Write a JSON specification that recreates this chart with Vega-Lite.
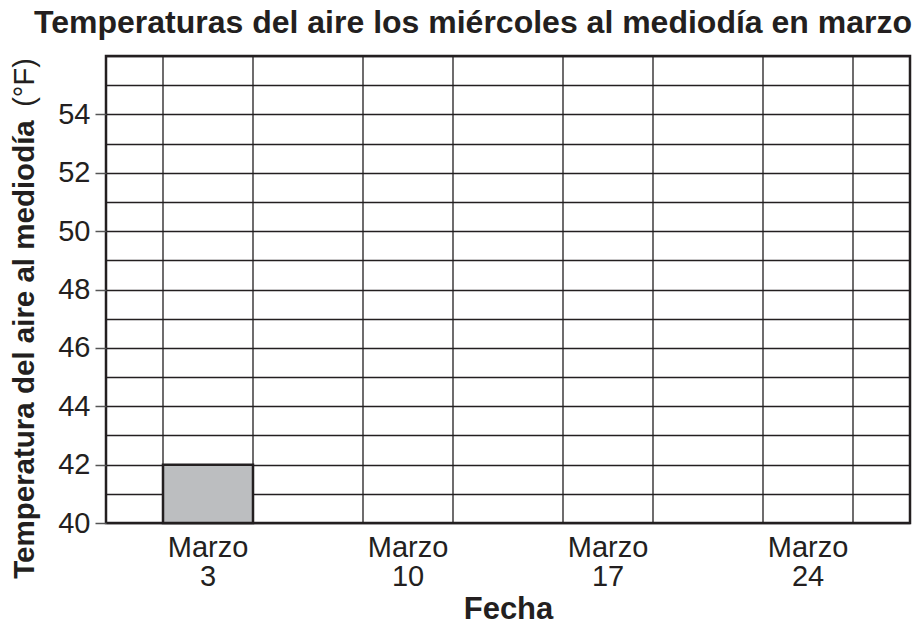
{
  "$schema": "https://vega.github.io/schema/vega-lite/v6.json",
  "width": 804,
  "height": 467,
  "autosize": {"type": "none"},
  "padding": {"left": 106, "top": 56, "right": 7, "bottom": 104},
  "background": "white",
  "title": {
    "text": "Temperaturas del aire los miércoles al mediodía en marzo",
    "anchor": "end",
    "font": "Liberation Sans",
    "fontSize": 32,
    "fontWeight": "bold",
    "color": "#231f20",
    "offset": 15,
    "dx": 2
  },
  "config": {
    "font": "Liberation Sans",
    "view": {"stroke": "#231f20", "strokeWidth": 2.5}
  },
  "data": {
    "values": [
      {"fecha": "Marzo 3", "temp": 42},
      {"fecha": "Marzo 10", "temp": null},
      {"fecha": "Marzo 17", "temp": null},
      {"fecha": "Marzo 24", "temp": null}
    ]
  },
  "encoding": {
    "x": {
      "field": "fecha",
      "type": "nominal",
      "sort": null,
      "scale": {"paddingInner": 0.55, "paddingOuter": 0.285},
      "axis": {
        "title": "Fecha",
        "titleFont": "Liberation Sans",
        "titleFontSize": 31,
        "titleFontWeight": "bold",
        "titleColor": "#231f20",
        "titlePadding": 3,
        "labelExpr": "split(datum.label, ' ')",
        "labelFont": "Liberation Sans",
        "labelFontSize": 29,
        "labelLineHeight": 29,
        "labelColor": "#231f20",
        "labelPadding": 10,
        "labelAngle": 0,
        "ticks": false,
        "domain": false,
        "grid": false
      }
    }
  },
  "layer": [
    {
      "mark": {"type": "bar", "fillOpacity": 0, "fill": "white", "stroke": "#231f20", "strokeWidth": 1.3},
      "encoding": {
        "y": {
          "datum": 56,
          "type": "quantitative",
          "scale": {"domain": [40, 56], "nice": false, "zero": false},
          "axis": {
            "orient": "left",
            "values": [40, 41, 42, 43, 44, 45, 46, 47, 48, 49, 50, 51, 52, 53, 54, 55, 56],
            "title": "Temperatura del aire al mediodía",
            "titleFont": "Liberation Sans",
            "titleFontSize": 29.5,
            "titleFontWeight": "bold",
            "titleColor": "#231f20",
            "titleX": -67,
            "titleY": 293,
            "labelExpr": "datum.value % 2 == 0 && datum.value < 56 ? datum.label : ''",
            "labelFont": "Liberation Sans",
            "labelFontSize": 29,
            "labelColor": "#231f20",
            "labelPadding": 5,
            "tickSize": 11,
            "tickColor": "#555555",
            "tickWidth": 1.5,
            "tickOpacity": {"condition": {"test": "datum.value % 2 == 0 && datum.value < 56", "value": 1}, "value": 0},
            "grid": true,
            "gridColor": "#231f20",
            "gridWidth": 1.3,
            "gridOpacity": 1,
            "domain": false
          }
        },
        "y2": {"datum": 40}
      }
    },
    {
      "mark": {"type": "bar", "fill": "#bcbec0", "stroke": "#231f20", "strokeWidth": 2.5},
      "encoding": {
        "y": {
          "field": "temp",
          "type": "quantitative",
          "axis": {
            "orient": "left",
            "title": "(°F)",
            "titleFont": "Liberation Sans",
            "titleFontSize": 29,
            "titleFontWeight": "normal",
            "titleColor": "#231f20",
            "titleX": -67,
            "titleY": 26,
            "labels": false,
            "ticks": false,
            "domain": false,
            "grid": false
          }
        },
        "y2": {"datum": 40}
      }
    }
  ],
  "resolve": {"axis": {"y": "independent"}}
}
